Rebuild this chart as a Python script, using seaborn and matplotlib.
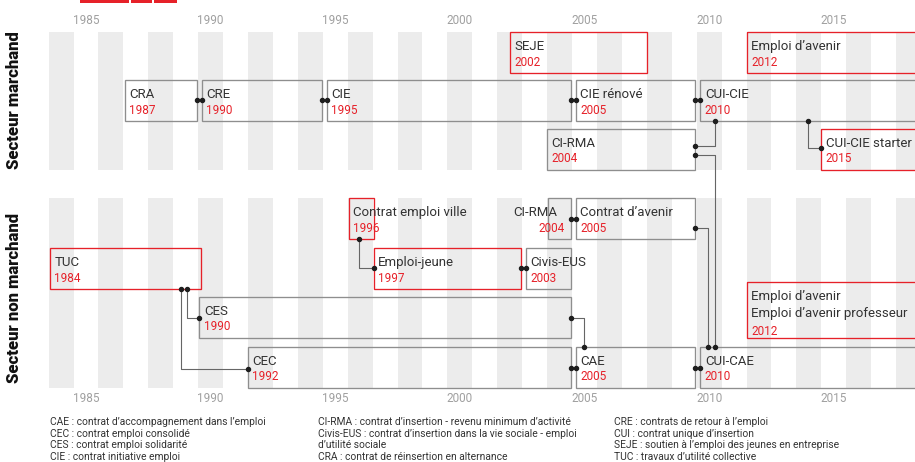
import matplotlib
matplotlib.use("Agg")
import matplotlib.pyplot as plt
import seaborn as sns
from matplotlib.patches import Rectangle

# --- data ---
programs = ["SEJE", "Emploi d’avenir", "CRA", "CRE", "CIE", "CIE rénové", "CUI-CIE",
            "CI-RMA", "CUI-CIE starter", "Contrat emploi ville", "CI-RMA", "Contrat d’avenir",
            "TUC", "Emploi-jeune", "Civis-EUS", "CES", "CEC", "CAE", "CUI-CAE",
            "Emploi d’avenir\nEmploi d’avenir professeur"]
launch_year = [2002, 2012, 1987, 1990, 1995, 2005, 2010, 2004, 2015, 1996, 2004, 2005,
               1984, 1997, 2003, 1990, 1992, 2005, 2010, 2012]
span_start = [2002.5, 2012.0, 1987.05, 1990.15, 1995.15, 2005.15, 2010.15, 2004.0, 2015.0,
              1996.05, 2004.05, 2005.15, 1984.05, 1997.05, 2003.15, 1990.05, 1992.0,
              2005.15, 2010.15, 2012.0]
span_end = [2008.0, 2019.5, 1989.95, 1994.95, 2004.95, 2009.95, 2019.5, 2009.95, 2019.5,
            1997.05, 2004.95, 2009.95, 1990.1, 2002.95, 2004.95, 2004.95, 2004.95,
            2009.95, 2019.5, 2019.5]
highlight = [True, True, False, False, False, False, False, False, True, True, False, False,
             True, True, False, False, False, False, False, True]
row = ["A", "A", "B", "B", "B", "B", "B", "C", "C", "D", "D", "D",
       "E", "E", "E", "F", "G", "G", "G", "EF"]
tick_years = [1985, 1990, 1995, 2000, 2005, 2010, 2015]
sectors = ["Secteur marchand", "Secteur non marchand"]

glossary = [
    ["CAE : contrat d’accompagnement dans l’emploi", "CEC : contrat emploi consolidé",
     "CES : contrat emploi solidarité", "CIE : contrat initiative emploi"],
    ["CI-RMA : contrat d’insertion - revenu minimum d’activité",
     "Civis-EUS : contrat d’insertion dans la vie sociale - emploi", "d’utilité sociale",
     "CRA : contrat de réinsertion en alternance"],
    ["CRE : contrats de retour à l’emploi", "CUI : contrat unique d’insertion",
     "SEJE : soutien à l’emploi des jeunes en entreprise", "TUC : travaux d’utilité collective"],
]

# links between programs: (from, to, kind, elbow year, y offset)
links = [
    (2, 3, "side", None, 20), (3, 4, "side", None, 20), (4, 5, "side", None, 20),
    (5, 6, "side", None, 20), (7, 6, "up", 2010.75, 16.5), (7, 18, "down", 2010.75, 26),
    (11, 18, "down", 2010.45, 30), (6, 8, "drop", 2014.45, 18.5),
    (9, 13, "drop", 1996.45, 20), (13, 14, "side", None, 20), (10, 11, "side", None, 21),
    (12, 15, "drop", 1989.55, 21), (12, 16, "drop", 1989.3, 22),
    (15, 17, "down", 2005.5, 21), (16, 17, "side", None, 21), (17, 18, "side", None, 21),
]

# --- layout (pixel rows, top-down) ---
row_top = {"A": 32, "B": 80, "C": 129, "D": 198, "E": 248, "F": 297, "G": 347, "EF": 282}
row_h = {"A": 41, "B": 41, "C": 41, "D": 41, "E": 41, "F": 41, "G": 41, "EF": 56}
panels = [(32, 170), (198, 388)]

RED = "#e62129"
EDGE = "#8e8e8e"
STRIPE = "#ececec"
INK = "#333333"
TICK = "#a0a0a0"

sns.set_theme(style="white")
plt.rcParams["font.family"] = ["Roboto", "DejaVu Sans"]

fig = plt.figure(figsize=(9.15, 4.62), dpi=100)
ax = fig.add_axes([0, 0, 1, 1])
ax.set_xlim(1982.05, 2018.76)
ax.set_ylim(462, 0)
ax.axis("off")

# alternating year stripes
stripe_years = list(range(1984, 2019, 2))
for top, bottom in panels:
    ax.bar(stripe_years, bottom - top, bottom=top, width=1, align="edge",
           color=STRIPE, linewidth=0, zorder=0)

for yr in tick_years:
    ax.text(yr + 0.5, 21, str(yr), ha="center", va="center", fontsize=8.5, color=TICK)
    ax.text(yr + 0.5, 398, str(yr), ha="center", va="center", fontsize=8.5, color=TICK)

# program boxes
for i, name in enumerate(programs):
    top, h = row_top[row[i]], row_h[row[i]]
    col = RED if highlight[i] else EDGE
    ax.add_patch(Rectangle((span_start[i], top), span_end[i] - span_start[i], h,
                           fill=False, ec=col, lw=0.95, zorder=2))
    lines = name.split("\n")
    if i == 10:
        ax.text(2004.4, top + 15, name, ha="right", va="center", fontsize=9.5, color=INK)
        ax.text(2004.7, top + 30.5, str(launch_year[i]), ha="right", va="center",
                fontsize=8.5, color=RED)
        continue
    x = span_start[i] + 0.18
    pitch = 17.3 if len(lines) > 1 else 15.5
    for k, ln in enumerate(lines):
        ax.text(x, top + 14.5 + k * pitch, ln, ha="left", va="center",
                fontsize=9.5, color=INK, zorder=3)
    ax.text(x, top + 14.5 + len(lines) * pitch, str(launch_year[i]), ha="left",
            va="center", fontsize=8.5, color=RED, zorder=3)

# connectors
for a, b, kind, ex, off in links:
    ta, tb = row_top[row[a]], row_top[row[b]]
    ba, bb = ta + row_h[row[a]], tb + row_h[row[b]]
    if kind == "side":
        xs, ys = [span_end[a], span_start[b]], [ta + off, ta + off]
    elif kind == "up":
        xs, ys = [span_end[a], ex, ex], [ta + off, ta + off, bb]
    elif kind == "down":
        xs, ys = [span_end[a], ex, ex], [ta + off, ta + off, tb]
    else:
        xs, ys = [ex, ex, span_start[b]], [ba, tb + off, tb + off]
    ax.plot(xs, ys, color="#666666", lw=0.8, zorder=4)
    ax.plot([xs[0], xs[-1]], [ys[0], ys[-1]], ls="none", marker="o", ms=2.9,
            color="#1e1e1e", zorder=5)

# sector labels
fig.text(14.5 / 915, 1 - 100 / 462, sectors[0], rotation=90, ha="center", va="center",
         fontsize=12, fontweight="heavy", color="#111111")
fig.text(14.5 / 915, 1 - 298 / 462, sectors[1], rotation=90, ha="center", va="center",
         fontsize=12, fontweight="heavy", color="#111111")

# red mark at the top
for x0, x1 in [(80, 129), (131, 152), (154, 177)]:
    fig.patches.append(Rectangle((x0 / 915, 1 - 2.5 / 462), (x1 - x0) / 915, 2.5 / 462,
                                 transform=fig.transFigure, color=RED, lw=0))

# glossary
for col_x, entries in zip([50, 318, 614], glossary):
    for k, txt in enumerate(entries):
        fig.text(col_x / 915, 1 - (422 + k * 11.7) / 462, txt, ha="left", va="center",
                 fontsize=7.4, color=INK)

fig.savefig("out.png", dpi=100)
